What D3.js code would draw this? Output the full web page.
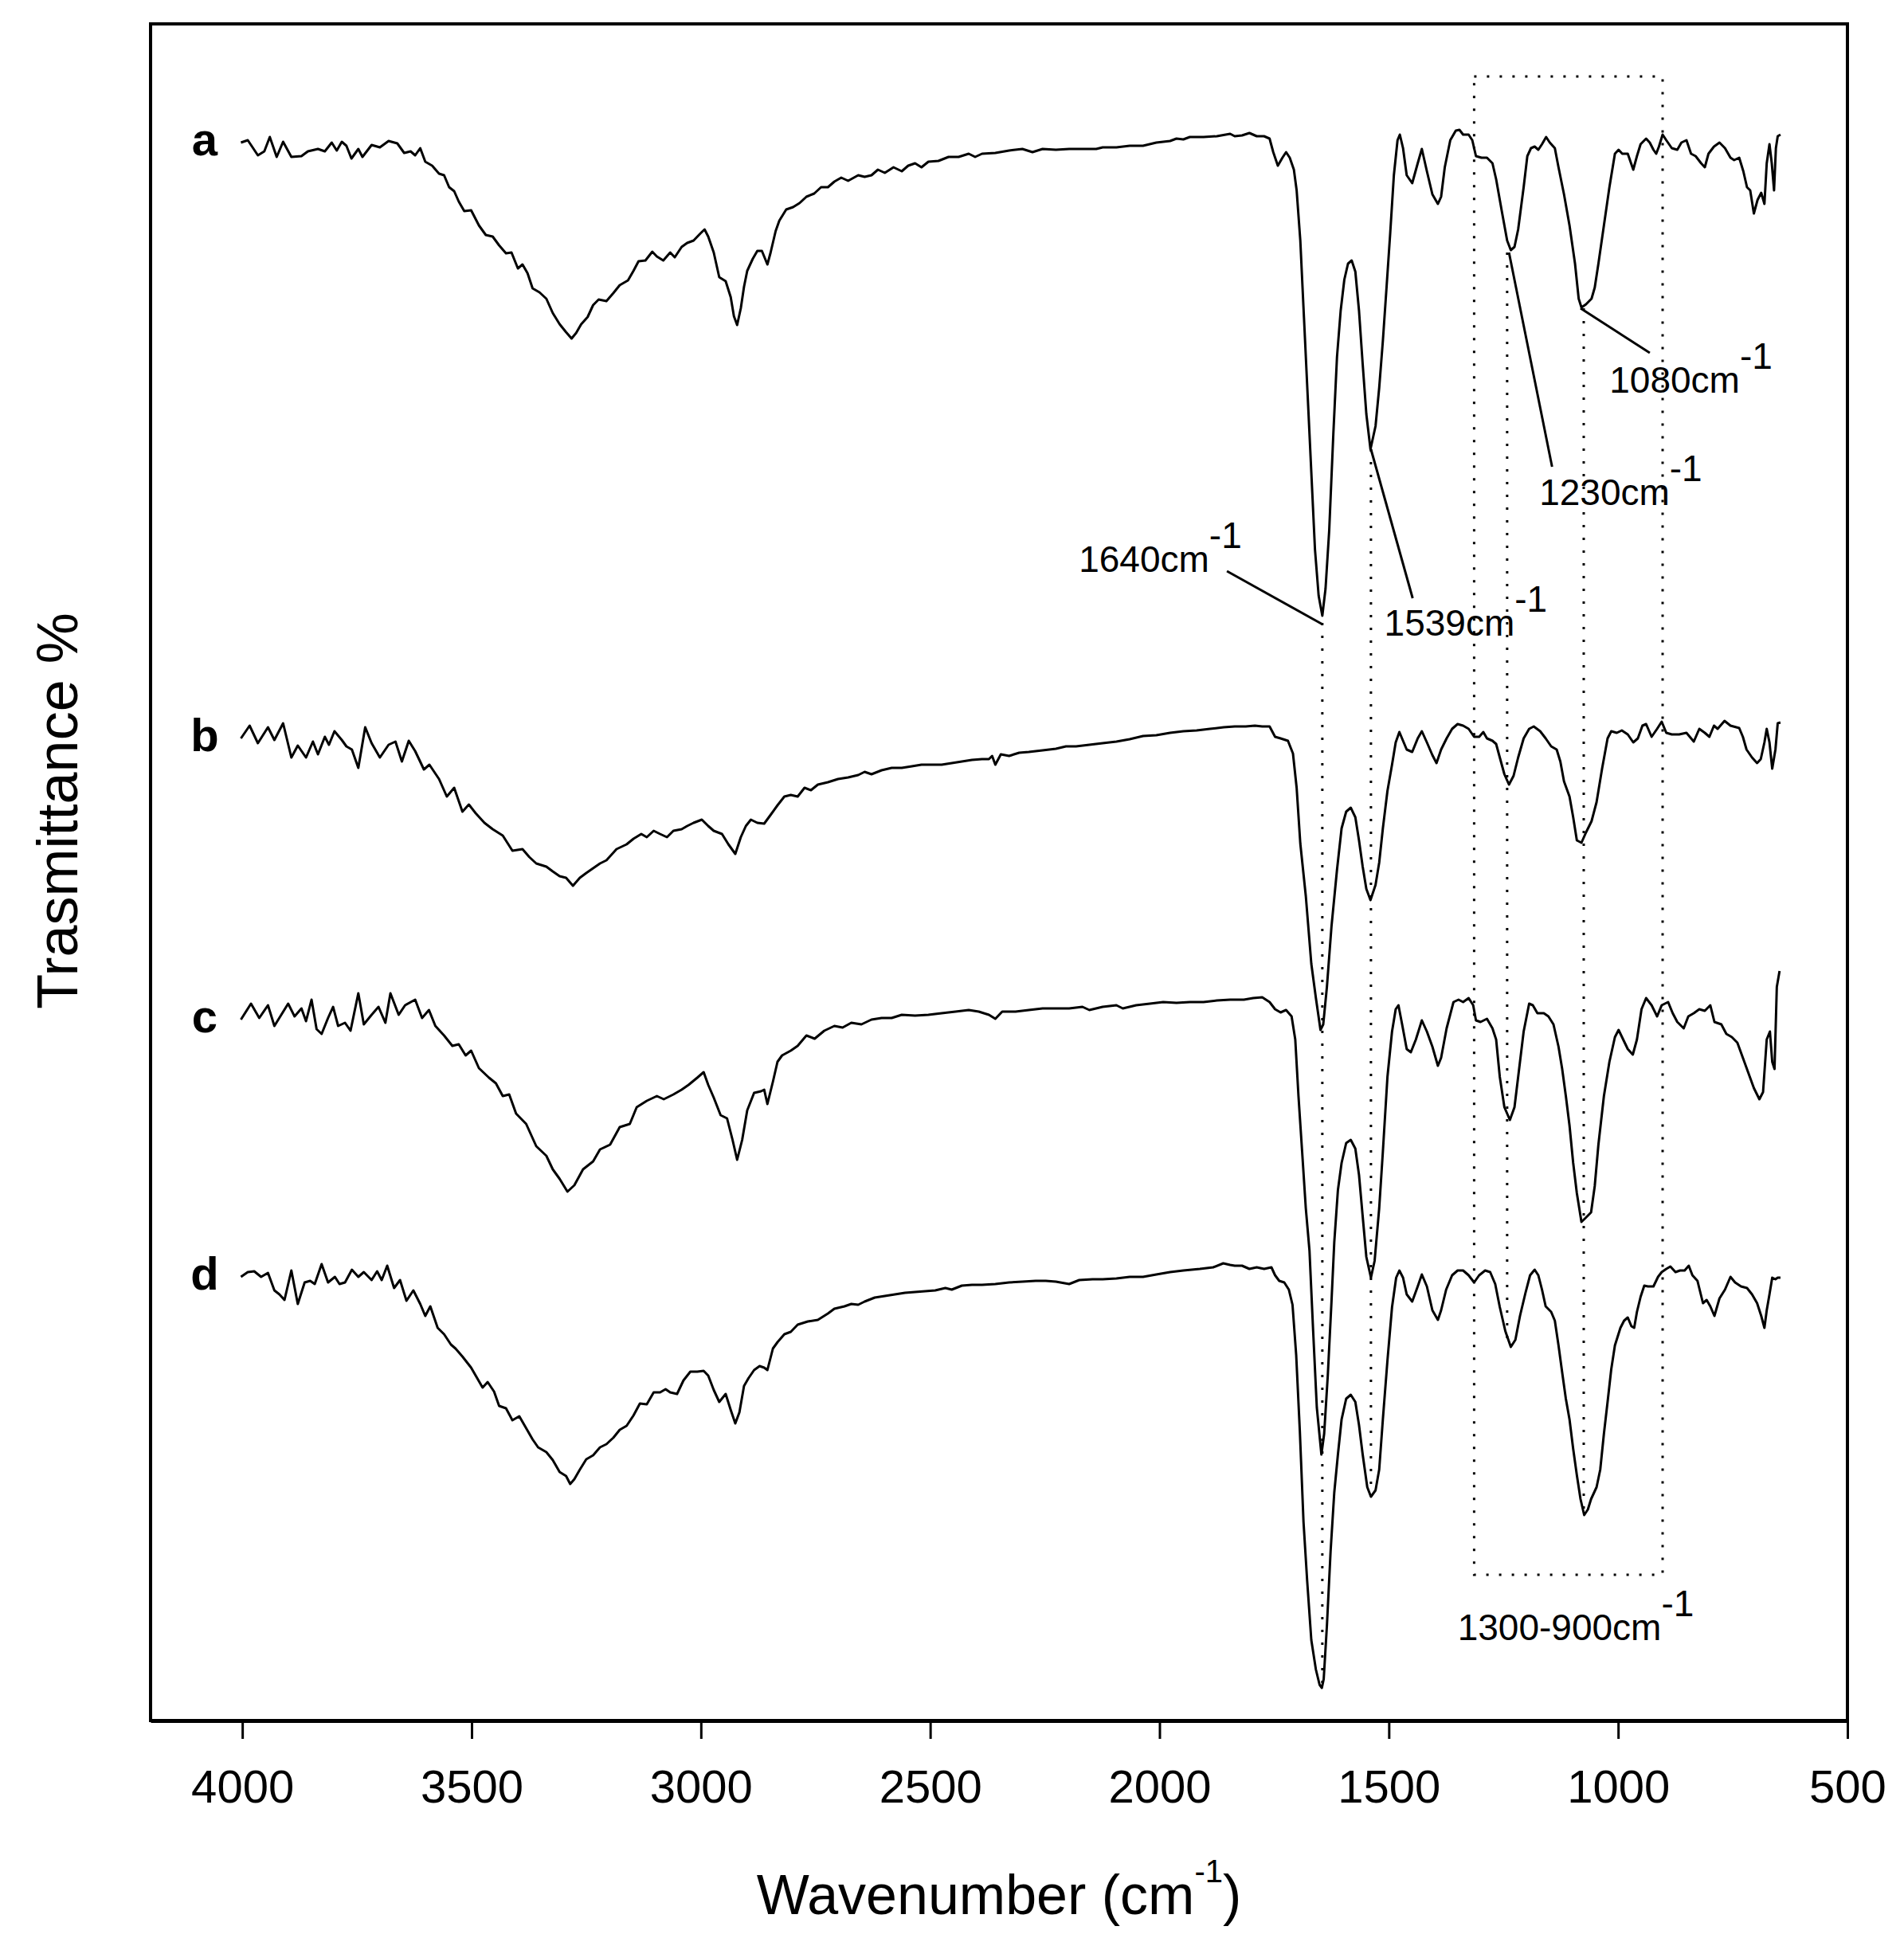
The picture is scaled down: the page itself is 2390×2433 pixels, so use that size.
<!DOCTYPE html>
<html>
<head>
<meta charset="utf-8">
<script src="https://cdn.jsdelivr.net/npm/d3@7"></script>
<style>
  body { margin: 0; background: #fff; }
  text { font-family: "Liberation Sans", Arial, sans-serif; fill: #000; }
</style>
</head>
<body>
<div id="chart"></div>
<script>
const width = 2390;
const height = 2433;

// spectra: [wavenumber, transmittance (offset, arbitrary units)]
const spectrumA = [
  [4003,198.1],[3988,198.4],[3966,196.5],[3952,197.0],[3940,198.8],[3925,196.3],[3911,198.2],[3893,196.3],
  [3871,196.4],[3857,197.0],[3835,197.3],[3820,197.0],[3805,198.1],[3794,197.1],[3783,198.2],[3773,197.7],
  [3762,196.1],[3747,197.3],[3738,196.3],[3718,197.8],[3700,197.5],[3681,198.3],[3662,198.0],[3647,196.8],
  [3633,197.0],[3623,196.5],[3612,197.4],[3601,195.7],[3586,195.2],[3571,194.2],[3560,194.0],[3549,192.5],
  [3538,192.0],[3528,190.7],[3516,189.5],[3501,189.6],[3484,187.7],[3469,186.5],[3454,186.3],[3440,185.2],
  [3425,184.2],[3413,184.3],[3399,182.3],[3389,182.8],[3378,181.7],[3367,179.8],[3352,179.3],[3337,178.5],
  [3323,176.7],[3308,175.3],[3294,174.3],[3282,173.5],[3272,174.2],[3261,175.3],[3247,176.2],[3235,177.7],
  [3223,178.4],[3206,178.2],[3191,179.2],[3177,180.2],[3159,180.8],[3147,182.0],[3136,183.2],[3121,183.3],
  [3106,184.4],[3096,183.8],[3082,183.3],[3067,184.3],[3057,183.7],[3042,185.0],[3030,185.5],[3016,185.8],
  [3001,186.7],[2992,187.2],[2984,186.3],[2972,184.3],[2960,181.2],[2946,180.7],[2935,178.7],[2928,176.3],
  [2921,175.2],[2913,177.3],[2906,180.0],[2899,182.0],[2887,183.5],[2877,184.5],[2867,184.5],[2855,182.8],
  [2848,184.3],[2837,187.0],[2829,188.3],[2814,189.7],[2799,190.0],[2785,190.5],[2770,191.3],[2753,191.7],
  [2738,192.5],[2723,192.5],[2709,193.2],[2694,193.7],[2679,193.3],[2657,194.0],[2643,193.8],[2628,194.0],
  [2614,194.7],[2599,194.3],[2580,195.0],[2562,194.5],[2548,195.2],[2533,195.5],[2519,195.0],[2504,195.7],
  [2482,195.8],[2460,196.3],[2438,196.3],[2416,196.7],[2402,196.3],[2387,196.7],[2358,196.8],[2328,197.1],
  [2299,197.3],[2277,196.9],[2255,197.3],[2226,197.2],[2197,197.3],[2168,197.3],[2138,197.3],[2124,197.5],
  [2094,197.5],[2065,197.7],[2036,197.7],[2007,198.1],[1977,198.3],[1963,198.6],[1948,198.5],[1934,198.8],
  [1904,198.8],[1875,198.9],[1846,199.2],
  [1836,198.9],[1820,199.0],[1804,199.3],[1788,198.9],[1772,198.9],[1760,198.6],[1752,196.9],[1742,195.2],
  [1732,196.2],[1724,196.9],[1716,196.2],[1707,194.7],[1701,192.1],[1693,185.8],[1685,176.1],[1677,166.4],
  [1669,156.7],[1661,147.0],[1653,141.2],[1645,138.7],[1638,142.1],[1630,149.4],[1621,161.5],[1613,171.2],
  [1605,177.0],[1597,180.9],[1589,182.9],[1581,183.3],[1573,181.9],[1565,177.0],[1557,170.3],[1549,164.0],
  [1540,159.6],[1529,162.5],[1521,167.3],[1513,173.2],[1505,179.9],[1497,186.7],[1489,194.0],[1481,198.4],
  [1476,199.1],[1469,197.4],[1461,194.0],[1449,193.0],[1437,195.5],[1428,197.3],[1417,194.5],[1405,191.6],
  [1393,190.4],[1386,191.3],[1378,195.0],[1366,198.4],[1354,199.6],[1346,199.7],[1338,199.1],[1326,199.1],
  [1318,198.4],[1310,196.4],[1298,196.2],[1286,196.2],[1274,195.5],[1266,193.5],[1254,189.6],[1242,185.8],
  [1234,184.6],[1226,185.0],[1218,187.2],[1206,192.5],[1198,196.4],[1190,197.4],[1182,197.6],[1174,197.2],
  [1166,197.9],[1157,198.8],[1149,198.1],[1138,197.4],[1130,195.0],[1118,191.6],[1106,187.7],[1094,182.9],
  [1086,178.5],[1080,177.4],[1070,177.8],[1058,178.5],[1051,179.9],[1043,182.9],[1031,187.7],[1019,192.5],
  [1007,196.7],[999,197.2],[991,196.7],[979,196.7],[967,194.7],[959,196.4],[951,197.9],[939,198.6],
  [931,198.1],[923,197.2],[917,196.7],[911,197.6],[903,199.1],[895,198.4],[883,197.4],[871,197.2],
  [862,198.1],[851,198.4],[841,196.7],[831,196.4],[819,195.5],[811,195.0],[803,196.7],[791,197.6],
  [779,198.1],[767,197.4],[755,196.2],[747,195.9],[736,196.2],[727,194.5],[719,192.5],[712,192.1],
  [704,189.2],[696,190.9],[688,191.8],[681,190.4],[676,195.5],[670,197.9],[665,195.5],[660,192.1],
  [656,197.4],[652,198.9],[646,199.1]
];

const spectrumB = [
  [4003,123.3],[3984,124.9],[3966,122.7],[3944,124.7],[3930,123.1],[3911,125.2],[3893,120.9],[3879,122.4],
  [3861,120.9],[3846,122.9],[3835,121.3],[3820,123.5],[3811,122.5],[3799,124.2],[3783,123.1],[3773,122.3],
  [3761,121.9],[3747,119.6],[3732,124.7],[3718,122.7],[3700,120.9],[3681,122.5],[3666,122.9],[3652,120.4],
  [3637,123.0],[3623,121.7],[3604,119.4],[3592,120.0],[3571,118.2],[3554,116.0],[3538,117.1],[3520,114.1],
  [3506,115.0],[3491,113.9],[3472,112.7],[3454,111.9],[3432,111.1],[3411,109.2],[3389,109.4],[3374,108.4],
  [3359,107.6],[3337,107.2],[3323,106.6],[3308,106.0],[3294,105.8],[3279,104.8],[3264,105.8],[3250,106.4],
  [3235,107.0],[3220,107.6],[3206,108.0],[3184,109.4],[3162,110.0],[3147,110.7],[3130,111.3],[3118,110.9],
  [3103,111.7],[3089,111.3],[3074,110.9],[3060,111.7],[3042,111.9],[3030,112.3],[3016,112.7],[2998,113.1],
  [2984,112.3],[2972,111.7],[2954,111.3],[2940,110.0],[2925,108.8],[2913,110.9],[2902,112.3],[2891,113.1],
  [2877,112.7],[2862,112.6],[2848,113.7],[2833,114.9],[2818,116.0],[2804,116.2],[2789,116.0],[2774,117.1],
  [2760,116.8],[2745,117.5],[2723,117.8],[2701,118.2],[2679,118.4],[2657,118.7],[2643,119.1],[2628,118.8],
  [2606,119.3],[2584,119.6],[2562,119.6],[2540,119.8],[2519,120.0],[2496,120.0],[2475,120.0],[2453,120.2],
  [2431,120.4],[2409,120.6],[2387,120.7],[2372,120.7],[2365,121.1],[2358,120.0],[2346,121.3],[2328,121.1],
  [2306,121.5],[2285,121.6],[2255,121.8],[2226,122.0],[2204,122.3],[2182,122.3],[2153,122.5],[2124,122.7],
  [2094,122.9],[2065,123.2],[2036,123.6],[2007,123.7],[1977,124.0],[1948,124.2],[1919,124.3],[1890,124.5],
  [1860,124.7],
  [1836,124.8],[1812,124.8],[1792,124.9],[1776,124.8],[1760,124.8],[1748,123.5],[1736,123.3],[1720,123.0],
  [1709,121.4],[1701,117.1],[1693,110.1],[1681,103.5],[1669,95.0],[1659,90.7],[1649,86.7],[1643,87.4],
  [1635,92.1],[1625,99.7],[1613,106.8],[1603,112.0],[1593,114.1],[1583,114.6],[1573,113.4],[1565,110.5],
  [1557,107.2],[1549,104.4],[1540,103.0],[1529,104.9],[1521,107.7],[1513,112.0],[1503,116.7],[1493,120.0],
  [1485,122.8],[1477,124.1],[1469,123.0],[1461,121.9],[1449,121.6],[1437,123.3],[1428,124.2],[1417,122.8],
  [1405,121.2],[1396,120.2],[1386,121.9],[1374,123.3],[1362,124.5],[1350,125.1],[1338,124.9],[1326,124.5],
  [1314,123.5],[1303,123.5],[1294,124.1],[1286,123.3],[1274,123.0],[1266,122.6],[1258,120.9],[1248,118.8],
  [1238,117.5],[1228,118.6],[1218,120.9],[1206,123.3],[1194,124.5],[1184,124.8],[1170,124.2],[1158,123.3],
  [1146,122.3],[1134,121.9],[1126,120.4],[1118,117.9],[1106,116.0],[1098,113.4],[1090,110.5],[1080,110.2],
  [1070,111.5],[1058,112.9],[1047,115.3],[1035,119.5],[1023,123.3],[1015,124.2],[1003,124.0],[992,124.3],
  [979,123.8],[967,122.8],[957,123.3],[947,124.9],[939,125.1],[927,123.5],[915,124.5],[905,125.4],
  [895,124.0],[883,123.8],[867,123.8],[851,124.0],[835,122.9],[823,124.5],[811,124.0],[801,123.5],
  [791,124.9],[783,124.5],[768,125.5],[755,124.9],[736,124.6],[728,123.5],[720,121.9],[708,120.9],
  [697,120.2],[689,120.7],[681,122.8],[676,124.5],[670,122.8],[664,119.5],[657,121.9],[652,125.2],
  [646,125.3]
];

const spectrumC = [
  [4003,88.0],[3981,90.0],[3963,88.2],[3944,89.8],[3930,87.2],[3915,88.6],[3900,90.0],[3886,88.4],
  [3871,89.4],[3861,87.8],[3849,90.5],[3838,86.8],[3827,86.2],[3813,88.2],[3802,89.6],[3791,87.2],
  [3776,87.6],[3764,86.6],[3747,91.3],[3735,87.4],[3718,88.6],[3703,89.6],[3688,87.6],[3677,91.3],
  [3659,88.6],[3645,89.8],[3623,90.5],[3608,88.2],[3593,89.2],[3579,87.2],[3560,86.0],[3542,84.7],
  [3528,84.9],[3513,83.5],[3501,84.1],[3484,81.9],[3462,80.7],[3447,80.0],[3432,78.4],[3418,78.6],
  [3403,76.2],[3381,74.9],[3359,72.1],[3337,70.9],[3323,69.2],[3308,68.0],[3291,66.4],[3276,67.2],
  [3257,69.2],[3235,70.2],[3220,71.7],[3198,72.3],[3177,74.5],[3155,74.9],[3140,77.0],[3118,77.8],
  [3096,78.4],[3081,78.0],[3060,78.6],[3042,79.2],[3027,79.8],[3008,80.7],[2994,81.4],[2984,79.8],
  [2972,78.2],[2957,76.0],[2943,75.6],[2931,72.9],[2921,70.4],[2910,72.9],[2899,76.6],[2884,78.8],
  [2869,79.0],[2862,79.2],[2855,77.4],[2843,80.2],[2833,82.7],[2823,83.5],[2804,84.1],[2789,84.7],
  [2770,86.0],[2752,85.6],[2731,86.6],[2709,87.2],[2691,87.0],[2672,87.6],[2650,87.4],[2628,88.0],
  [2606,88.2],[2584,88.2],[2562,88.6],[2533,88.5],[2504,88.6],[2475,88.8],[2445,89.0],[2416,89.2],
  [2394,89.0],[2372,88.6],[2358,88.1],[2343,89.0],[2314,89.0],[2285,89.2],[2255,89.4],[2226,89.4],
  [2197,89.4],[2168,89.6],[2153,89.2],[2124,89.6],[2094,89.8],[2080,89.4],[2051,89.8],[2021,90.0],
  [1992,90.2],[1963,90.1],[1934,90.2],[1904,90.2],[1875,90.4],[1846,90.5],
  [1836,90.5],[1816,90.5],[1796,90.7],[1776,90.8],[1760,90.2],[1748,89.3],[1736,88.9],[1724,89.2],
  [1712,88.4],[1704,85.5],[1697,78.4],[1689,71.4],[1681,64.3],[1673,59.0],[1665,48.9],[1657,39.3],
  [1647,33.4],[1641,36.0],[1633,43.4],[1625,52.6],[1619,60.0],[1611,66.6],[1603,70.0],[1593,72.5],
  [1583,72.9],[1573,71.8],[1565,68.5],[1557,63.3],[1549,58.2],[1539,55.6],[1531,57.7],[1521,64.3],
  [1513,71.4],[1503,80.8],[1493,86.5],[1485,89.3],[1479,89.8],[1471,87.4],[1461,84.3],[1452,83.9],
  [1441,85.5],[1428,87.9],[1417,86.5],[1405,84.6],[1393,82.2],[1386,83.2],[1374,86.9],[1359,90.2],
  [1348,90.5],[1338,90.2],[1326,90.7],[1316,89.8],[1310,87.9],[1300,87.7],[1286,88.1],[1274,86.9],
  [1266,85.5],[1258,80.8],[1248,77.0],[1236,75.4],[1226,77.0],[1218,80.8],[1206,86.5],[1194,90.0],
  [1186,89.8],[1176,88.8],[1162,88.8],[1152,88.4],[1141,87.4],[1130,84.6],[1122,81.8],[1114,78.4],
  [1106,74.7],[1098,70.0],[1090,66.2],[1080,62.6],[1071,63.1],[1059,63.8],[1051,67.1],[1043,72.3],
  [1031,78.4],[1019,82.7],[1007,85.8],[999,86.7],[989,85.5],[979,84.3],[968,83.6],[959,85.5],
  [949,89.3],[939,90.7],[927,89.8],[915,88.4],[905,89.8],[891,90.2],[881,88.8],[871,87.7],
  [857,86.9],[847,88.4],[835,88.8],[823,89.3],[811,89.1],[799,89.8],[790,87.7],[775,87.4],
  [764,86.2],[752,85.8],[740,85.1],[728,83.2],[716,81.3],[704,79.4],[692,78.0],[684,78.9],
  [676,85.5],[669,86.5],[664,82.7],[659,81.8],[654,92.1],[648,94.1]
];

const spectrumD = [
  [4003,55.7],[3988,56.3],[3974,56.4],[3959,55.7],[3944,56.2],[3930,54.0],[3919,53.5],[3908,52.8],
  [3893,56.5],[3879,52.3],[3864,55.0],[3852,55.2],[3842,54.8],[3827,57.3],[3813,55.0],[3798,55.7],
  [3788,54.8],[3776,55.0],[3761,56.6],[3747,55.7],[3735,56.3],[3718,55.3],[3706,56.4],[3696,55.3],
  [3684,57.1],[3669,54.3],[3656,55.3],[3642,52.7],[3627,54.0],[3612,52.3],[3601,50.8],[3590,52.0],
  [3574,49.3],[3560,48.5],[3545,47.2],[3535,46.7],[3520,45.7],[3501,44.3],[3491,43.3],[3476,41.8],
  [3465,42.5],[3451,41.3],[3440,39.5],[3425,39.2],[3411,37.7],[3396,38.2],[3381,36.7],[3367,35.3],
  [3355,34.3],[3337,33.7],[3323,32.7],[3308,31.2],[3294,30.7],[3285,29.7],[3276,30.3],[3264,31.5],
  [3250,32.8],[3235,33.3],[3220,34.3],[3206,34.7],[3191,35.5],[3177,36.5],[3162,37.0],[3147,38.3],
  [3133,39.8],[3118,39.7],[3103,41.2],[3089,41.2],[3077,41.6],[3067,41.2],[3052,41.0],[3038,42.7],
  [3023,43.8],[3008,43.8],[2994,43.9],[2984,43.3],[2972,41.5],[2960,40.0],[2946,41.0],[2935,39.0],
  [2925,37.3],[2916,38.7],[2906,42.0],[2896,43.0],[2884,44.0],[2872,44.5],[2862,44.3],[2855,44.0],
  [2843,46.7],[2833,47.5],[2818,48.5],[2804,48.8],[2789,49.7],[2767,50.1],[2745,50.3],[2723,51.1],
  [2709,51.7],[2687,52.0],[2672,52.3],[2657,52.2],[2643,52.6],[2621,53.1],[2599,53.3],[2577,53.5],
  [2555,53.7],[2533,53.8],[2511,53.9],[2489,54.0],[2467,54.3],[2453,54.1],[2431,54.6],[2409,54.7],
  [2387,54.7],[2358,54.8],[2328,55.0],[2299,55.1],[2270,55.2],[2248,55.2],[2226,55.1],[2197,54.8],
  [2175,55.3],[2146,55.4],[2124,55.4],[2094,55.5],[2065,55.7],[2036,55.7],[2007,56.0],[1977,56.3],
  [1948,56.5],[1912,56.7],[1883,56.9],[1861,57.4],[1846,57.2],
  [1836,57.1],[1820,57.1],[1804,56.7],[1788,56.9],[1772,56.7],[1756,56.9],[1748,55.9],[1739,55.2],
  [1728,55.0],[1718,54.1],[1710,52.2],[1702,45.9],[1694,36.3],[1686,24.9],[1678,17.5],[1669,10.1],
  [1659,6.4],[1651,4.5],[1646,4.1],[1642,5.2],[1635,11.9],[1627,21.2],[1619,28.6],[1611,33.4],
  [1603,37.8],[1593,40.4],[1583,40.9],[1573,40.0],[1565,37.1],[1557,33.4],[1547,29.3],[1539,28.1],
  [1529,28.9],[1521,31.5],[1513,37.8],[1503,45.2],[1493,51.9],[1484,55.6],[1477,56.5],[1469,55.6],
  [1461,53.5],[1449,52.6],[1437,54.5],[1428,56.0],[1417,54.5],[1405,51.5],[1393,50.3],[1386,51.5],
  [1375,54.1],[1362,55.9],[1350,56.5],[1338,56.5],[1326,55.9],[1314,55.0],[1303,55.9],[1290,56.5],
  [1279,56.3],[1268,54.8],[1258,51.9],[1246,48.9],[1234,46.9],[1224,47.8],[1214,50.8],[1202,53.7],
  [1192,55.9],[1182,56.6],[1174,55.9],[1166,54.1],[1158,52.0],[1146,51.3],[1138,50.2],[1130,47.1],
  [1122,43.7],[1114,40.4],[1106,37.8],[1098,34.1],[1090,30.8],[1082,27.8],[1074,25.8],[1066,26.5],
  [1059,27.8],[1047,29.3],[1039,31.5],[1031,36.0],[1023,40.0],[1015,44.1],[1007,47.1],[995,49.3],
  [987,50.2],[979,50.6],[971,49.5],[965,49.3],[959,51.3],[951,53.2],[943,54.6],[935,54.5],
  [923,54.5],[913,55.7],[905,56.3],[895,56.7],[886,57.0],[875,56.3],[865,56.5],[855,56.5],
  [846,57.1],[838,55.9],[827,55.2],[815,52.4],[807,52.8],[799,52.0],[790,50.8],[779,53.0],
  [767,54.1],[755,55.7],[745,55.0],[732,54.5],[719,54.3],[708,53.5],[697,52.4],[688,50.8],
  [681,49.3],[676,51.5],[670,53.5],[664,55.6],[657,55.4],[652,55.6],[646,55.6]
];

const seriesNames = ['a', 'b', 'c', 'd'];
const xTicks = [4000, 3500, 3000, 2500, 2000, 1500, 1000, 500];

// peak annotations (data coordinates)
const peakLabels = ['1640', '1539', '1230', '1080'];
const leaderFrom = [[1644, 137.6], [1539, 159.6], [1238, 184.3], [1082, 177.3]];
const leaderTo = [[1853, 144.3], [1448, 140.9], [1144, 157.4], [931, 171.7]];
const labelAt = [[2176, 144.2], [1510, 136.2], [1172, 152.6], [1019, 166.7]];
const guideWn = [1645, 1539, 1242, 1075];
const guideTop = [137.8, 159.6, 184.3, 177.3];
const guideBottom = [4.1, 27.0, 47.0, 26.0];
const boxWn = [1314, 903];
const boxVal = [206.4, 18.3];
const boxLabel = '1300-900';
const boxLabelAt = [1350, 10.1];


const svg = d3.select('#chart')
    .append('svg')
    .attr('width', width)
    .attr('height', height);

const x = d3.scaleLinear().domain([4200, 500]).range([189, 2319]);
const y = d3.scaleLinear().domain([0, 213]).range([2160, 30]);

// frame
svg.append('rect')
    .attr('x', x(4200)).attr('y', y(213))
    .attr('width', x(500) - x(4200)).attr('height', y(0) - y(213))
    .attr('fill', 'none').attr('stroke', '#000').attr('stroke-width', 4);

// bottom axis
const xAxis = d3.axisBottom(x)
    .tickValues(xTicks)
    .tickFormat(d3.format('d'))
    .tickSize(23)
    .tickPadding(39)
    .tickSizeOuter(0);
const gx = svg.append('g').attr('transform', `translate(0,${y(0)})`).call(xAxis);
gx.select('.domain').attr('stroke-width', 5);
gx.selectAll('.tick line').attr('stroke-width', 3);
gx.selectAll('.tick text')
    .style('font-family', '"Liberation Sans", Arial, sans-serif')
    .style('font-size', '58px');

// dotted guides and box
const dotted = { stroke: '#000', 'stroke-width': 3, 'stroke-dasharray': '3,13', fill: 'none' };
guideWn.forEach((wn, i) => {
    const l = svg.append('line')
        .attr('x1', x(wn)).attr('x2', x(wn))
        .attr('y1', y(guideTop[i])).attr('y2', y(guideBottom[i]));
    Object.entries(dotted).forEach(([k, v]) => l.attr(k, v));
});
const box = svg.append('rect')
    .attr('x', x(boxWn[0])).attr('y', y(boxVal[0]))
    .attr('width', x(boxWn[1]) - x(boxWn[0]))
    .attr('height', y(boxVal[1]) - y(boxVal[0]));
Object.entries(dotted).forEach(([k, v]) => box.attr(k, v));

// spectra
const line = d3.line().x(d => x(d[0])).y(d => y(d[1]));
const spectra = [spectrumA, spectrumB, spectrumC, spectrumD]
    .map(s => s.slice().sort((p, q) => q[0] - p[0]));

svg.selectAll('path.spectrum')
    .data(spectra)
    .join('path')
    .attr('class', 'spectrum')
    .attr('d', line)
    .attr('fill', 'none')
    .attr('stroke', '#000')
    .attr('stroke-width', 3)
    .attr('stroke-linejoin', 'round');

// series letters
svg.selectAll('text.series')
    .data(spectra)
    .join('text')
    .attr('class', 'series')
    .attr('x', x(4082))
    .attr('y', d => y(d[0][1]) + 16)
    .attr('text-anchor', 'middle')
    .style('font-size', '58px')
    .style('font-weight', 'bold')
    .text((d, i) => seriesNames[i]);

// leaders and peak labels
peakLabels.forEach((lab, i) => {
    svg.append('line')
        .attr('x1', x(leaderFrom[i][0])).attr('y1', y(leaderFrom[i][1]))
        .attr('x2', x(leaderTo[i][0])).attr('y2', y(leaderTo[i][1]))
        .attr('stroke', '#000').attr('stroke-width', 3);
    const t = svg.append('text')
        .attr('x', x(labelAt[i][0])).attr('y', y(labelAt[i][1]))
        .style('font-size', '46px');
    t.append('tspan').text(lab + 'cm');
    t.append('tspan').attr('dy', -30).text('-1');
});

const bt = svg.append('text')
    .attr('x', x(boxLabelAt[0])).attr('y', y(boxLabelAt[1]))
    .style('font-size', '46px');
bt.append('tspan').text(boxLabel + 'cm');
bt.append('tspan').attr('dy', -30).text('-1');

// axis titles
const xt = svg.append('text')
    .attr('x', (x(4200) + x(500)) / 2)
    .attr('y', 2403)
    .attr('text-anchor', 'middle')
    .style('font-size', '70px');
xt.append('tspan').text('Wavenumber (cm');
xt.append('tspan').attr('dy', -40).style('font-size', '40px').text('-1');
xt.append('tspan').attr('dy', 40).text(')');

svg.append('text')
    .attr('transform', `translate(97,${(y(0) + y(213)) / 2 - 77}) rotate(-90)`)
    .attr('text-anchor', 'middle')
    .style('font-size', '72px')
    .text('Trasmittance %');
</script>
</body>
</html>
